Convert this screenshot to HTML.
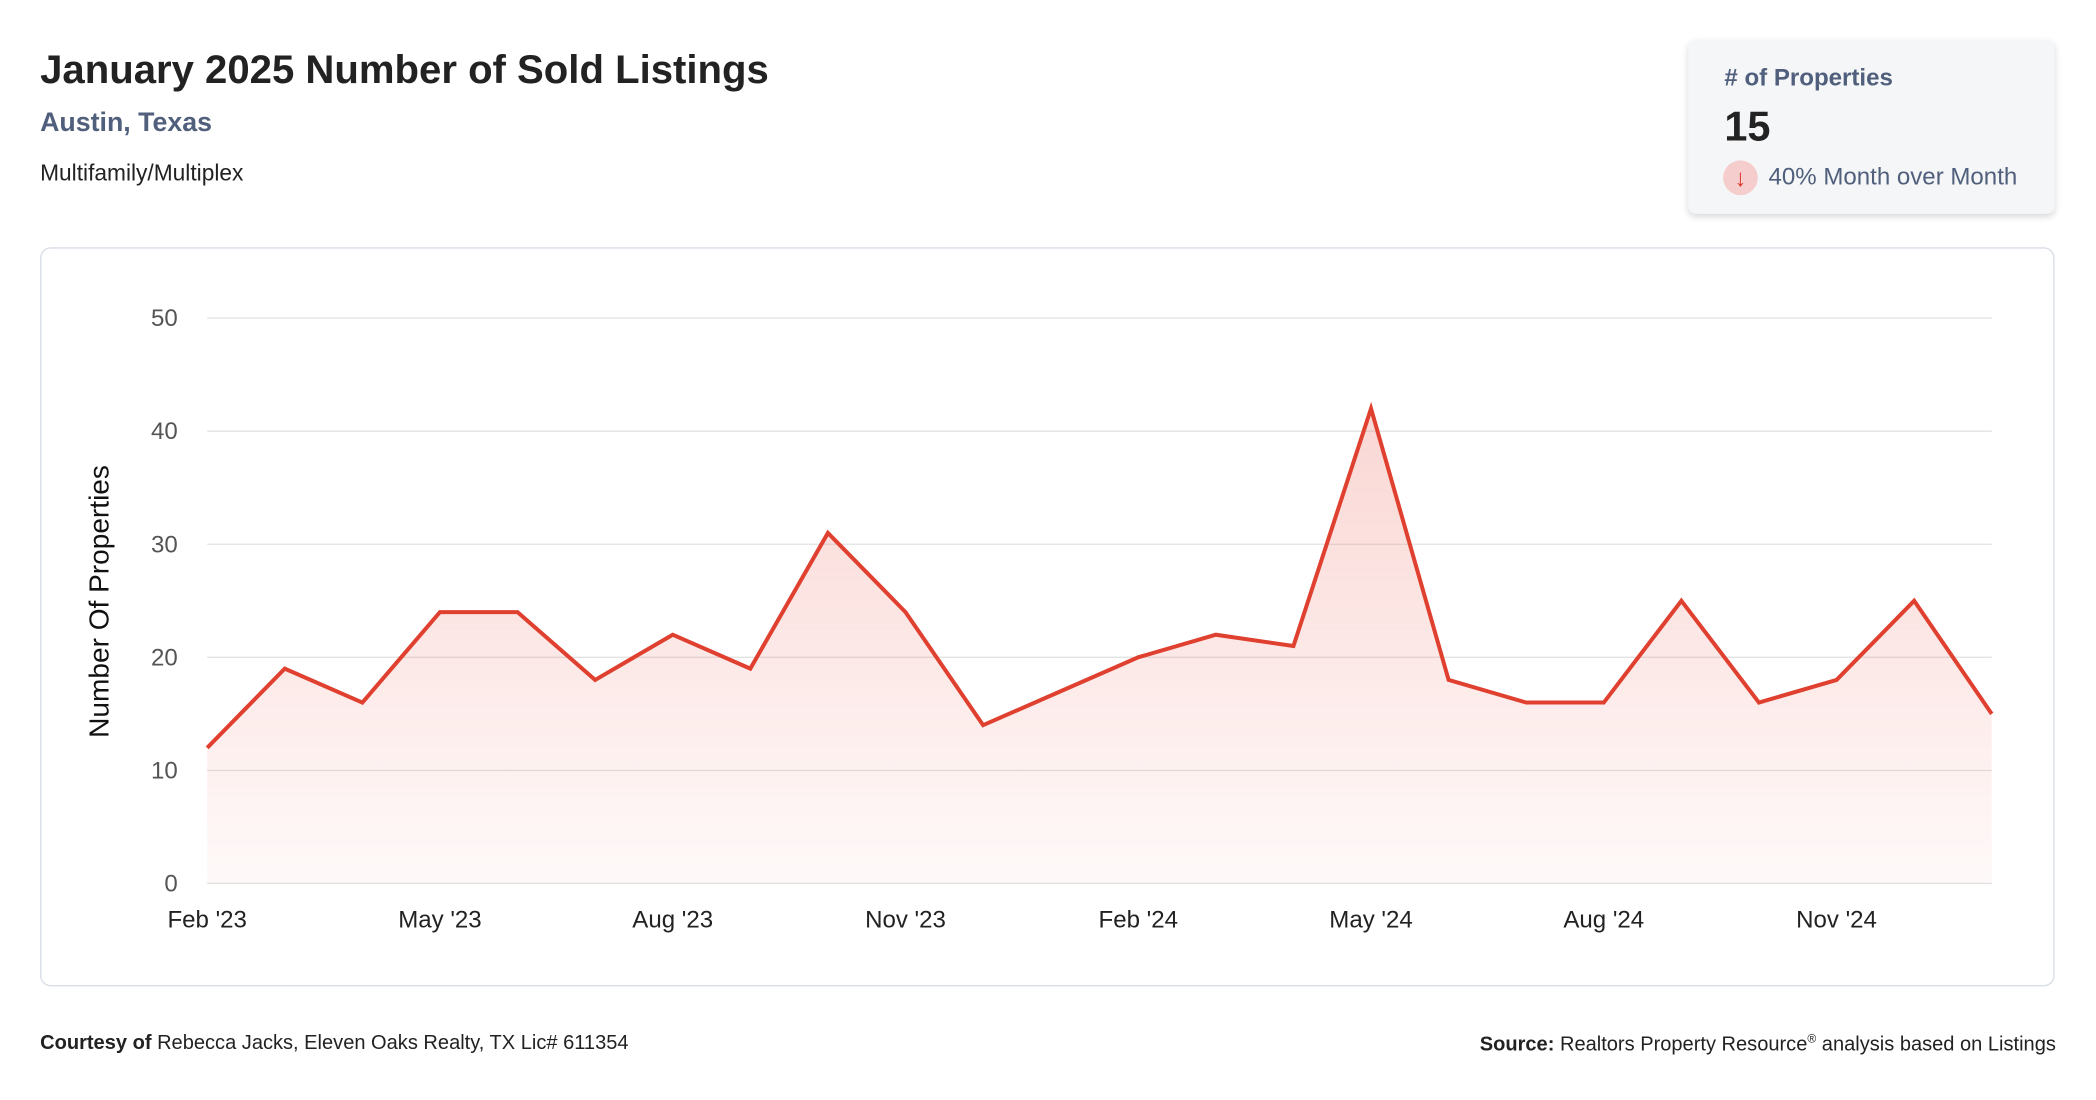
<!DOCTYPE html>
<html><head><meta charset="utf-8"><style>
html,body{margin:0;padding:0;background:#fff;width:2096px;height:1100px;overflow:hidden}
#wrap{position:absolute;left:0;top:0;width:1568px;height:823px;transform:scale(1.33673,1.33657);transform-origin:0 0;font-family:"Liberation Sans",sans-serif}
.abs{position:absolute;white-space:nowrap}
</style></head><body>
<div id="wrap">
<div class="abs" style="left:30px;top:36px;font-size:30px;font-weight:bold;color:#222">January 2025 Number of Sold Listings</div>
<div class="abs" style="left:30px;top:81px;font-size:20px;font-weight:bold;color:#4f5f7c">Austin, Texas</div>
<div class="abs" style="left:30px;top:120px;font-size:17px;color:#222">Multifamily/Multiplex</div>
<div class="abs" style="left:1263px;top:30px;width:274px;height:130px;background:#f5f6f8;border-radius:6px;box-shadow:0 2px 5px rgba(0,0,0,0.15)">
 <div class="abs" style="left:27px;top:18px;font-size:18px;font-weight:bold;color:#4f5f7c"># of Properties</div>
 <div class="abs" style="left:27px;top:47px;font-size:31px;font-weight:bold;color:#222">15</div>
 <div class="abs" style="left:26px;top:90px;width:26px;height:26px;border-radius:13px;background:#f6cdcd;color:#d9372a;font-size:18px;text-align:center;line-height:26px">↓</div>
 <div class="abs" style="left:60px;top:92px;font-size:18px;color:#4f5f7c">40% Month over Month</div>
</div>
<div class="abs" style="left:30px;top:185px;width:1505px;height:551px;border:1px solid #d8dde6;border-radius:8px"></div>
<svg class="abs" style="left:0;top:0" width="1568" height="823" id="chart">
<defs><linearGradient id="g" x1="0" y1="0" x2="0" y2="1"><stop offset="0" stop-color="#e8483a" stop-opacity="0.22"/><stop offset="1" stop-color="#e8483a" stop-opacity="0.03"/></linearGradient></defs>
<text transform="translate(81,450) rotate(-90)" text-anchor="middle" font-size="21" fill="#111" font-family="Liberation Sans, sans-serif">Number Of Properties</text>
</svg>
<div class="abs" style="left:30px;top:772px;font-size:15px;color:#222"><b>Courtesy of</b> Rebecca Jacks, Eleven Oaks Realty, TX Lic# 611354</div>
<div class="abs" style="right:30px;top:772px;font-size:15px;color:#222"><b>Source:</b> Realtors Property Resource<sup style="font-size:9px">®</sup> analysis based on Listings</div>
</div>
<script>
const months=["Feb '23","Mar '23","Apr '23","May '23","Jun '23","Jul '23","Aug '23","Sep '23","Oct '23","Nov '23","Dec '23","Jan '24","Feb '24","Mar '24","Apr '24","May '24","Jun '24","Jul '24","Aug '24","Sep '24","Oct '24","Nov '24","Dec '24","Jan '25"];
const values=[12,19,16,24,24,18,22,19,31,24,14,17,20,22,21,42,18,16,16,25,16,18,25,15];
const yTicks=[0,10,20,30,40,50];
const xTickIdx=[0,3,6,9,12,15,18,21];
const svg=document.getElementById('chart');const NS='http://www.w3.org/2000/svg';
const x0=155,x1=1490,yb=661,yt=238;
const xs=i=>x0+i*(x1-x0)/(months.length-1);
const ys=v=>yb-(v/50)*(yb-yt);
function mk(t,a){const e=document.createElementNS(NS,t);for(const k in a)e.setAttribute(k,a[k]);svg.appendChild(e);return e;}
yTicks.forEach(v=>{
 const l=mk('line',{x1:x0,x2:x1,y1:ys(v),y2:ys(v),stroke:'#e3e3e3','stroke-width':1});
 
 
 const t=mk('text',{x:133,y:ys(v)+6,'text-anchor':'end','font-size':18,fill:'#555','font-family':'Liberation Sans, sans-serif'});
 t.textContent=v;
 
 
});
xTickIdx.forEach(i=>{
 const t=mk('text',{x:xs(i),y:694,'text-anchor':'middle','font-size':18,fill:'#222','font-family':'Liberation Sans, sans-serif'});
 t.textContent=months[i];
 
 
});
const pts=values.map((v,i)=>xs(i)+','+ys(v)).join(' ');
const area=mk('polygon',{points:x0+','+yb+' '+pts+' '+x1+','+yb,fill:'url(#g)'});


const line=mk('polyline',{points:pts,fill:'none',stroke:'#e0402f','stroke-width':3,'stroke-linejoin':'miter'});


</script>
</body></html>
